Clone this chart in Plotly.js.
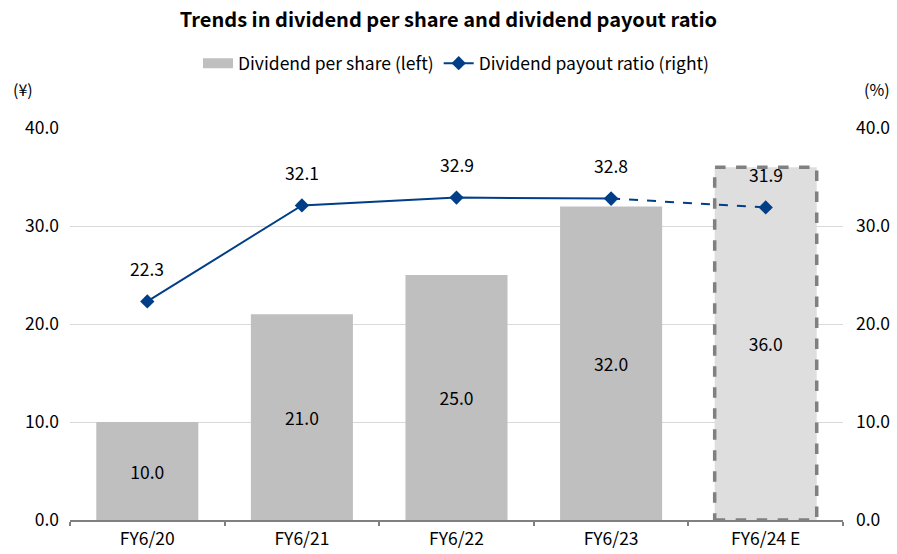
<!DOCTYPE html>
<html><head><meta charset="utf-8">
<script src="https://cdn.plot.ly/plotly-3.0.1.min.js"></script>
<style>html,body{margin:0;padding:0;background:#fff}#chart{width:897px;height:554px}</style>
</head><body><div id="chart"></div>
<script>
const categories = ["FY6/20", "FY6/21", "FY6/22", "FY6/23", "FY6/24 E"];
const dividendPerShare = [10.0, 21.0, 25.0, 32.0, 36.0];
const payoutRatio = [22.3, 32.1, 32.9, 32.8, 31.9];
const yTicks = [0, 10, 20, 30, 40];

const FONT = "'Noto Sans CJK JP', 'Noto Sans', sans-serif";
const lineColor = "#003f87";
const barColor = "#bfbfbf";
const nActual = 4;
const barWidth = 0.66;
const FS = 17.5;

const barColors = dividendPerShare.map((v, i) => i < nActual ? barColor : "#dedede");

const traces = [
  {
    type: "bar", name: "Dividend per share (left)", showlegend: false,
    x: categories, y: dividendPerShare,
    marker: {color: barColors},
    width: barWidth,
    text: dividendPerShare.map(v => v.toFixed(1)),
    textposition: "inside", insidetextanchor: "middle",
    textfont: {family: FONT, size: FS, color: "#000"},
    hoverinfo: "none"
  },
  // legend swatch for the bars (wide rectangle like the reference)
  {
    type: "scatter", mode: "lines", name: "Dividend per share (left)",
    x: [null], y: [null],
    line: {color: barColor, width: 13},
    hoverinfo: "none"
  },
  {
    type: "scatter", mode: "lines+markers", name: "Dividend payout ratio (right)",
    x: categories.slice(0, nActual), y: payoutRatio.slice(0, nActual), yaxis: "y2",
    line: {color: lineColor, width: 2},
    marker: {symbol: "diamond", size: 11, color: lineColor},
    hoverinfo: "none"
  },
  {
    type: "scatter", mode: "lines+markers", showlegend: false,
    x: categories.slice(nActual - 1), y: payoutRatio.slice(nActual - 1), yaxis: "y2",
    line: {color: lineColor, width: 2, dash: "dash"},
    marker: {symbol: "diamond", size: 11, color: lineColor},
    hoverinfo: "none"
  }
];

const annotations = payoutRatio.map((v, i) => ({
  x: categories[i], y: v, xref: "x", yref: "y2",
  text: v.toFixed(1), showarrow: false, yshift: 33,
  font: {family: FONT, size: FS, color: "#000"}
}));
annotations.push(
  {x: 0.0, y: 1.0, xref: "paper", yref: "paper", xanchor: "left", yanchor: "bottom", xshift: -59, yshift: 25,
   text: "(¥)", showarrow: false, font: {family: FONT, size: 16, color: "#000"}},
  {x: 1.0, y: 1.0, xref: "paper", yref: "paper", xanchor: "left", yanchor: "bottom", xshift: 19, yshift: 25,
   text: "(%)", showarrow: false, font: {family: FONT, size: 16, color: "#000"}}
);

// dashed outline around the forecast bar, derived from its data
const fi = nActual;
const shapes = [{
  type: "rect", xref: "x", yref: "y",
  x0: fi - barWidth / 2, x1: fi + barWidth / 2, y0: 0, y1: dividendPerShare[fi],
  line: {color: "#808080", width: 3.5, dash: "dash"},
  fillcolor: "rgba(0,0,0,0)", layer: "above"
}];

const layout = {
  width: 897, height: 554,
  margin: {l: 70, r: 54, t: 128, b: 34},
  paper_bgcolor: "#fff", plot_bgcolor: "#fff",
  font: {family: FONT, size: FS, color: "#000"},
  title: {text: "<b>Trends in dividend per share and dividend payout ratio</b>",
          x: 0.5, xanchor: "center", y: 0.963, yanchor: "middle",
          font: {family: FONT, size: 20, color: "#000"}},
  showlegend: true,
  legend: {orientation: "h", x: 0.5, xanchor: "center", y: 1.165, yanchor: "middle",
           font: {family: FONT, size: FS, color: "#000"}, itemwidth: 30, traceorder: "normal"},
  xaxis: {type: "category", showgrid: false, showline: true, linecolor: "#808080", linewidth: 2,
          ticks: "outside", tickson: "boundaries", ticklen: 4, tickcolor: "#808080", tickwidth: 2,
          ticklabelstandoff: 2,
          tickfont: {family: FONT, size: FS, color: "#000"}, fixedrange: true},
  yaxis: {range: [0, 40], tickvals: yTicks, ticktext: yTicks.map(v => v.toFixed(1)),
          showgrid: true, gridcolor: "#d9d9d9", gridwidth: 1, zeroline: false, showline: false,
          ticks: "", ticklabelstandoff: 10, tickfont: {family: FONT, size: FS, color: "#000"}},
  yaxis2: {range: [0, 40], tickvals: yTicks, ticktext: yTicks.map(v => v.toFixed(1)),
           overlaying: "y", side: "right", showgrid: false, zeroline: false, showline: false,
           ticks: "", ticklabelstandoff: 12, tickfont: {family: FONT, size: FS, color: "#000"}},
  bargap: 0.34,
  annotations: annotations,
  shapes: shapes
};

Plotly.newPlot("chart", traces, layout, {displayModeBar: false, staticPlot: true});
</script>
</body></html>
